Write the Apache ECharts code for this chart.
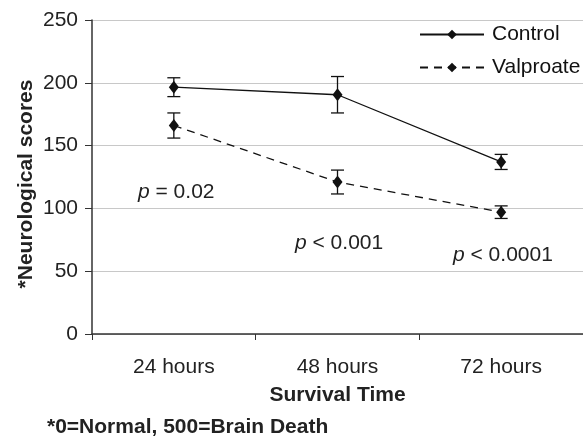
<!DOCTYPE html>
<html>
<head>
<meta charset="utf-8">
<script src="https://cdn.jsdelivr.net/npm/echarts@6/dist/echarts.min.js"></script>
<style>
  html, body { margin: 0; padding: 0; background: #fff; }
  #chart { width: 583px; height: 436px; }
</style>
</head>
<body>
<div id="chart"></div>
<script>
var categories = ["24 hours", "48 hours", "72 hours"]
var controlMean = [196.5, 190.5, 137]
var controlErr = [7.5, 14.5, 6]
var valproateMean = [166, 121, 97]
var valproateErr = [10, 9.5, 5]
var yTicks = [0, 50, 100, 150, 200, 250]

// error bar rows: [categoryIndex, low, high]
function errRows(mean, err) {
    return mean.map(function (m, i) { return [i, m - err[i], m + err[i]] })
}

function renderErr(params, api) {
    var lo = api.coord([api.value(0), api.value(1)])
    var hi = api.coord([api.value(0), api.value(2)])
    var hw = 6.5
    var style = { stroke: "#111", lineWidth: 1.3, fill: null }
    return {
        type: "group",
        children: [
            { type: "line", shape: { x1: lo[0], y1: lo[1], x2: hi[0], y2: hi[1] }, style: style },
            { type: "line", shape: { x1: lo[0] - hw, y1: lo[1], x2: lo[0] + hw, y2: lo[1] }, style: style },
            { type: "line", shape: { x1: hi[0] - hw, y1: hi[1], x2: hi[0] + hw, y2: hi[1] }, style: style }
        ]
    }
}

function pText(x, y, txt) {
    return {
        type: "text", x: x, y: y,
        style: {
            text: txt,
            rich: { i: { fontStyle: "italic", fontSize: 21, fontFamily: font, fill: "#222" } },
            fontSize: 21, fill: "#222", fontFamily: font,
            align: "left", verticalAlign: "middle"
        }
    }
}

var font = "Liberation Sans, Arial, sans-serif"
var chart = echarts.init(document.getElementById("chart"))

chart.setOption({
    animation: false,
    textStyle: { fontFamily: font },
    grid: { left: 92, right: 0, top: 20, bottom: 102 },
    legend: {
        left: 419,
        top: 24,
        padding: 0,
        orient: "vertical",
        itemWidth: 64,
        itemHeight: 12,
        itemGap: 12,
        textStyle: { fontSize: 21, color: "#111", fontFamily: font, padding: [0, 0, 0, 3] },
        data: ["Control", "Valproate"]
    },
    xAxis: {
        type: "category",
        data: categories,
        boundaryGap: true,
        axisLine: { lineStyle: { color: "#333", width: 1.5 } },
        axisTick: { show: true, length: 6, interval: 0, lineStyle: { color: "#333" } },
        axisLabel: { fontSize: 21, color: "#222", margin: 23 },
        name: "Survival Time",
        nameLocation: "middle",
        nameGap: 51,
        nameTextStyle: { fontSize: 21, fontWeight: "bold", color: "#222" }
    },
    yAxis: {
        type: "value",
        min: yTicks[0],
        max: yTicks[yTicks.length - 1],
        interval: 50,
        axisLine: { show: true, lineStyle: { color: "#333", width: 1.5 } },
        axisTick: { show: true, length: 7, lineStyle: { color: "#333" } },
        axisLabel: { fontSize: 21, color: "#222", margin: 14 },
        splitLine: { lineStyle: { color: "#c8c8c8", width: 1.2 } }
    },
    series: [
        {
            name: "Control",
            type: "line",
            data: controlMean,
            symbol: "diamond",
            symbolSize: [10, 13],
            itemStyle: { color: "#111" },
            lineStyle: { color: "#111", width: 1.3, type: "solid" },
            z: 3
        },
        {
            name: "Valproate",
            type: "line",
            data: valproateMean,
            symbol: "diamond",
            symbolSize: [10, 13],
            itemStyle: { color: "#111" },
            lineStyle: { color: "#111", width: 1.3, type: [8, 6] },
            z: 3
        },
        { type: "custom", renderItem: renderErr, data: errRows(controlMean, controlErr), z: 2 },
        { type: "custom", renderItem: renderErr, data: errRows(valproateMean, valproateErr), z: 2 }
    ],
    graphic: [
        // y axis title
        {
            type: "text", x: 26, y: 184, rotation: Math.PI / 2,
            style: {
                text: "*Neurological scores",
                fontSize: 21, fontWeight: "bold", fill: "#222", fontFamily: font,
                align: "center", verticalAlign: "middle"
            }
        },
        pText(138, 192, "{i|p} = 0.02"),
        pText(295, 243, "{i|p} < 0.001"),
        pText(453, 255, "{i|p} < 0.0001"),
        {
            type: "text", x: 47, y: 427,
            style: {
                text: "*0=Normal, 500=Brain Death",
                fontSize: 21, fontWeight: "bold", fill: "#222", fontFamily: font,
                align: "left", verticalAlign: "middle"
            }
        }
    ]
})
</script>
</body>
</html>
